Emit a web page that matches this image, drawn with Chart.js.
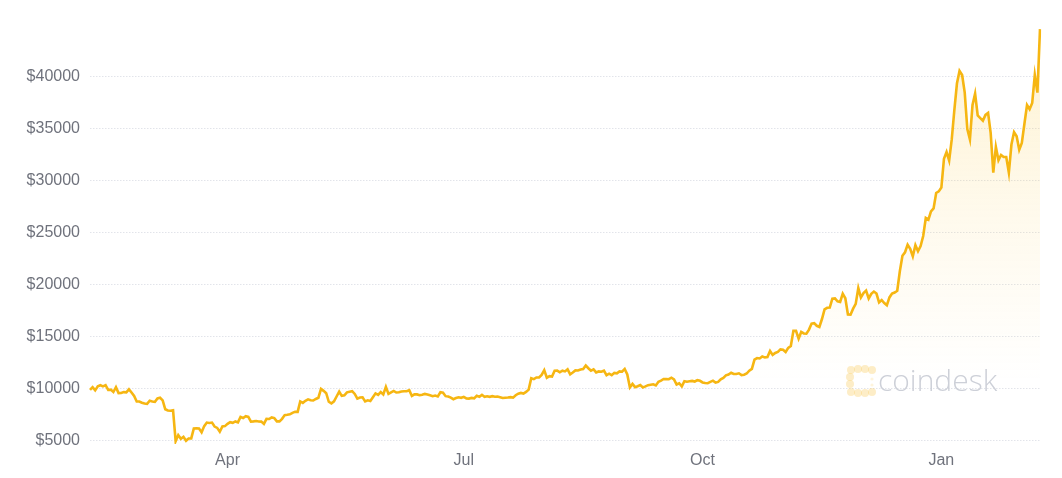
<!DOCTYPE html>
<html>
<head>
<meta charset="utf-8">
<script src="https://cdn.jsdelivr.net/npm/chart.js@4/dist/chart.umd.min.js"></script>
<style>
  html, body { margin: 0; padding: 0; background: #ffffff; }
  #wrap { width: 1062px; height: 478px; position: relative; }
</style>
</head>
<body>
<div id="wrap"><canvas id="c" width="1062" height="478"></canvas></div>
<script>
// Daily BTC price (USD), 8 Feb 2020 – 8 Feb 2021
const feb2020 = [9900, 10170, 9860, 10250, 10350, 10240, 10360, 9900, 9930, 9700, 10170, 9600, 9610, 9690, 9670, 9960, 9650, 9320, 8790, 8790, 8670, 8600];
const mar2020 = [8560, 8870, 8790, 8760, 9080, 9150, 8900, 8040, 7930, 7900, 7950, 4970, 5560, 5200, 5390, 5010, 5230, 5240, 6190, 6200, 6190, 5830, 6420, 6760, 6720, 6760, 6380, 6250, 5880, 6390, 6420];
const apr2020 = [6640, 6800, 6740, 6870, 6780, 7300, 7200, 7370, 7300, 6860, 6880, 6910, 6860, 6850, 6630, 7110, 7100, 7260, 7190, 6880, 6880, 7120, 7480, 7510, 7550, 7700, 7790, 7790, 8800, 8660];
const may2020 = [8860, 8990, 8900, 8880, 9030, 9150, 9990, 9810, 9590, 8760, 8600, 8800, 9270, 9730, 9330, 9380, 9670, 9730, 9780, 9510, 9060, 9170, 9180, 8790, 8900, 8840, 9200, 9570, 9430, 9700, 9460];
const jun2020 = [10200, 9520, 9660, 9800, 9650, 9670, 9750, 9780, 9770, 9870, 9320, 9480, 9470, 9390, 9430, 9520, 9460, 9380, 9300, 9360, 9280, 9680, 9630, 9300, 9260, 9160, 9010, 9120, 9190, 9140];
const jul2020 = [9230, 9090, 9070, 9130, 9090, 9340, 9250, 9430, 9240, 9290, 9240, 9300, 9240, 9260, 9200, 9130, 9150, 9170, 9210, 9160, 9390, 9540, 9610, 9550, 9710, 9930, 11030, 10940, 11100, 11110, 11350];
const aug2020 = [11800, 11070, 11230, 11190, 11740, 11760, 11600, 11750, 11680, 11880, 11410, 11580, 11780, 11770, 11870, 11910, 12250, 11990, 11760, 11880, 11590, 11680, 11650, 11750, 11320, 11460, 11320, 11540, 11500, 11680, 11650];
const sep2020 = [11920, 11390, 10140, 10480, 10170, 10250, 10370, 10130, 10240, 10360, 10400, 10440, 10330, 10680, 10790, 10950, 10940, 10930, 11080, 10920, 10420, 10540, 10240, 10740, 10690, 10730, 10770, 10710, 10840, 10780];
const oct2020 = [10620, 10570, 10550, 10670, 10790, 10600, 10670, 10920, 11060, 11300, 11380, 11550, 11430, 11430, 11500, 11320, 11360, 11480, 11750, 11920, 12820, 12970, 12930, 13110, 13030, 13070, 13650, 13270, 13460, 13560, 13800];
const nov2020 = [13760, 13550, 13950, 14130, 15590, 15580, 14830, 15480, 15330, 15310, 15700, 16280, 16320, 16070, 15960, 16720, 17650, 17800, 17820, 18680, 18700, 18420, 18370, 19160, 18720, 17150, 17140, 17720, 18180, 19700];
const dec2020 = [18800, 19220, 19450, 18700, 19150, 19360, 19170, 18320, 18550, 18260, 18050, 18800, 19170, 19270, 19440, 21310, 22800, 23140, 23870, 23480, 22750, 23820, 23240, 23730, 24710, 26440, 26280, 27080, 27360, 28840, 29000];
const jan2021 = [29370, 32130, 32780, 31970, 33990, 36820, 39370, 40580, 40190, 38500, 35000, 34000, 37300, 38400, 36300, 36050, 35800, 36350, 36540, 34600, 30800, 33270, 32000, 32500, 32300, 32300, 30800, 33500, 34700, 34300, 33000];
const feb2021 = [33650, 35500, 37300, 36900, 37500, 40200, 38500, 44600];

const startDate = [2020, 1, 8];          // 8 Feb 2020 (month is 0-based)
const tickMonths = ['Apr', 'Jul', 'Oct', 'Jan'];
const yTicks = [5000, 10000, 15000, 20000, 25000, 30000, 35000, 40000];

const prices = [].concat(feb2020, mar2020, apr2020, may2020, jun2020, jul2020, aug2020,
                         sep2020, oct2020, nov2020, dec2020, jan2021, feb2021);
const monthNames = ['Jan','Feb','Mar','Apr','May','Jun','Jul','Aug','Sep','Oct','Nov','Dec'];
const dates = prices.map((_, i) => new Date(Date.UTC(startDate[0], startDate[1], startDate[2] + i)));
const labels = dates.map(d => d.toISOString().slice(0, 10));
const tickIdx = [];
dates.forEach((d, i) => {
  if (d.getUTCDate() === 1 && tickMonths.includes(monthNames[d.getUTCMonth()])) tickIdx.push(i);
});

const watermark = {
  id: 'watermark',
  beforeDatasetsDraw(chart) {
    const ctx = chart.ctx;
    ctx.save();
    // logo: bracket of rounded blocks
    ctx.fillStyle = 'rgba(250, 200, 80, 0.32)';
    const dot = (x, y, r) => { ctx.beginPath(); ctx.arc(x, y, r, 0, Math.PI * 2); ctx.fill(); };
    const pts = [[851,370],[858,369],[865,369],[872,370],[850,377],[850,384],[851,392],[858,393],[865,393],[872,392]];
    pts.forEach(p => dot(p[0], p[1], 4));
    ctx.fillStyle = 'rgba(250, 200, 80, 0.2)';
    dot(872, 379, 1.6); dot(872, 385, 1.6);
    // wordmark
    ctx.fillStyle = '#cdd0d8';
    ctx.font = '300 30px "Open Sans", "Noto Sans", sans-serif';
    ctx.textBaseline = 'alphabetic';
    ctx.textAlign = 'left';
    ctx.fillText('coindesk', 878, 391);
    ctx.restore();
  }
};

const ctx = document.getElementById('c').getContext('2d');
new Chart(ctx, {
  type: 'line',
  data: {
    labels: labels,
    datasets: [{
      data: prices,
      borderColor: '#f6b612',
      borderWidth: 2.6,
      pointRadius: 0,
      tension: 0,
      fill: 'origin',
      backgroundColor: (c) => {
        const a = c.chart.chartArea;
        if (!a) return 'rgba(0,0,0,0)';
        const g = c.chart.ctx.createLinearGradient(0, a.top, 0, a.bottom);
        g.addColorStop(0, 'rgba(252, 196, 45, 0.22)');
        g.addColorStop(0.45, 'rgba(252, 196, 45, 0.09)');
        g.addColorStop(0.85, 'rgba(252, 196, 45, 0)');
        g.addColorStop(1, 'rgba(252, 196, 45, 0)');
        return g;
      }
    }]
  },
  options: {
    responsive: false,
    animation: false,
    layout: { padding: { top: 25, right: 22, bottom: 0, left: 0 } },
    plugins: { legend: { display: false }, tooltip: { enabled: false } },
    scales: {
      x: {
        type: 'category',
        grid: { display: false, drawTicks: false },
        border: { display: false },
        afterBuildTicks: (s) => { s.ticks = s.ticks.filter(t => tickIdx.includes(t.value)); },
        afterFit: (s) => { s.height = 34; },
        ticks: {
          autoSkip: false,
          maxRotation: 0,
          padding: 7,
          color: '#6f727c',
          font: { family: '"Liberation Sans", Arial, sans-serif', size: 16 },
          callback: (v) => monthNames[dates[v].getUTCMonth()]
        }
      },
      y: {
        min: 4700,
        max: 45000,
        afterBuildTicks: (s) => { s.ticks = yTicks.map(v => ({ value: v })); },
        afterFit: (s) => { s.width = 90; },
        grid: { color: '#e2e4ea', lineWidth: 1, drawTicks: false },
        border: { display: false, dash: [1.5, 1.5] },
        ticks: {
          padding: 10,
          color: '#6f727c',
          font: { family: '"Liberation Sans", Arial, sans-serif', size: 16 },
          callback: (v) => '$' + v
        }
      }
    }
  },
  plugins: [watermark]
});
</script>
</body>
</html>
